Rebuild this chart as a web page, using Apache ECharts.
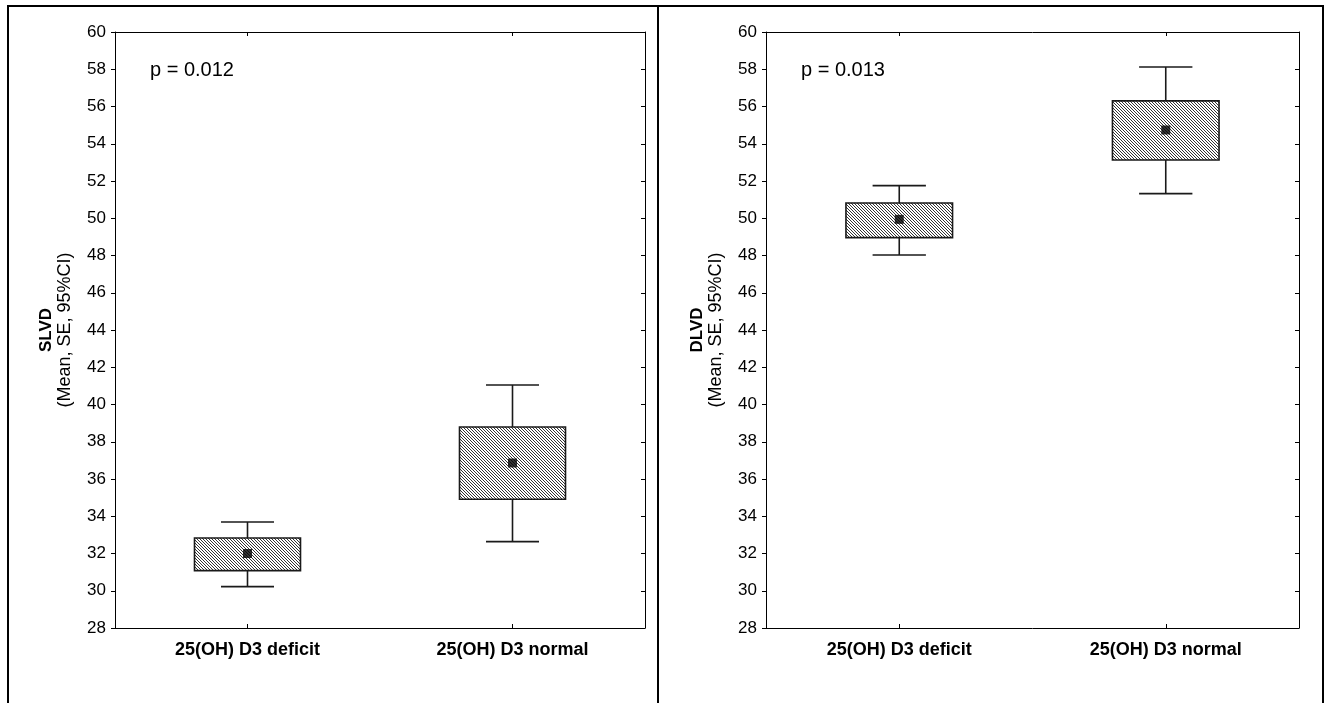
<!DOCTYPE html>
<html>
<head>
<meta charset="utf-8">
<script src="https://cdn.jsdelivr.net/npm/echarts@6/dist/echarts.min.js"></script>
<style>
html,body{margin:0;padding:0;background:#fff;}
#chart{width:1332px;height:703px;}
</style>
</head>
<body>
<div id="chart"></div>
<script>
// ---- data ----
var categories = ['25(OH) D3 deficit', '25(OH) D3 normal'];
var yMin = 28, yMax = 60, yInterval = 2;

var slvdMean   = [32.00, 36.86];
var slvdSeLow  = [31.08, 34.91];
var slvdSeHigh = [32.83, 38.79];
var slvdCiLow  = [30.22, 32.64];
var slvdCiHigh = [33.69, 41.05];

var dlvdMean   = [49.94, 54.74];
var dlvdSeLow  = [48.96, 53.13];
var dlvdSeHigh = [50.82, 56.30];
var dlvdCiLow  = [48.03, 51.32];
var dlvdCiHigh = [51.75, 58.12];

var pValues  = ['p = 0.012', 'p = 0.013'];
var yTitles  = ['SLVD', 'DLVD'];
var ySubtitle = '(Mean, SE, 95%CI)';

// ---- hatch pattern ----
var pc = document.createElement('canvas');
pc.width = 3; pc.height = 3;
var pctx = pc.getContext('2d');
pctx.fillStyle = '#ffffff'; pctx.fillRect(0, 0, 3, 3);
pctx.fillStyle = '#333333';
for (var i = 0; i < 3; i++) { pctx.fillRect(i, i, 1, 1); }
var hatch = { image: pc, repeat: 'repeat' };

var FONT = '"Liberation Sans", Arial, sans-serif';

function boxData(ciLow, seLow, seHigh, ciHigh) {
  return categories.map(function (c, i) { return [i, ciLow[i], seLow[i], seHigh[i], ciHigh[i]]; });
}
function meanData(mean) {
  return categories.map(function (c, i) { return [i, mean[i]]; });
}

function renderBox(params, api) {
  var x = api.value(0);
  var cw = api.size([1, 0])[0];
  var bw = cw * 0.4, capw = cw * 0.2;
  var pCiL = api.coord([x, api.value(1)]);
  var pSeL = api.coord([x, api.value(2)]);
  var pSeH = api.coord([x, api.value(3)]);
  var pCiH = api.coord([x, api.value(4)]);
  var cx = pCiL[0];
  var ls = { stroke: '#1a1a1a', lineWidth: 1.6 };
  return {
    type: 'group',
    children: [
      { type: 'line', shape: { x1: cx, y1: pCiL[1], x2: cx, y2: pSeL[1] }, style: ls },
      { type: 'line', shape: { x1: cx, y1: pSeH[1], x2: cx, y2: pCiH[1] }, style: ls },
      { type: 'line', shape: { x1: cx - capw / 2, y1: pCiL[1], x2: cx + capw / 2, y2: pCiL[1] }, style: ls },
      { type: 'line', shape: { x1: cx - capw / 2, y1: pCiH[1], x2: cx + capw / 2, y2: pCiH[1] }, style: ls },
      { type: 'rect', shape: { x: cx - bw / 2, y: pSeH[1], width: bw, height: pSeL[1] - pSeH[1] },
        style: { fill: hatch, stroke: '#1a1a1a', lineWidth: 1.6 } }
    ]
  };
}

var grids = [
  { left: 115, top: 32, width: 530, height: 596 },
  { left: 766, top: 32, width: 533, height: 596 }
];

var xAxes = [], yAxes = [], series = [], graphics = [];
var sets = [
  { mean: slvdMean, seL: slvdSeLow, seH: slvdSeHigh, ciL: slvdCiLow, ciH: slvdCiHigh },
  { mean: dlvdMean, seL: dlvdSeLow, seH: dlvdSeHigh, ciL: dlvdCiLow, ciH: dlvdCiHigh }
];

grids.forEach(function (g, gi) {
  var axLine = { show: true, lineStyle: { color: '#000', width: 1 } };
  xAxes.push({
    type: 'category', gridIndex: gi, data: categories, position: 'bottom',
    axisLine: axLine,
    axisTick: { show: true, inside: true, alignWithLabel: true, length: 4, lineStyle: { color: '#000' } },
    axisLabel: { color: '#000', fontFamily: FONT, fontSize: 18, fontWeight: 'bold', margin: 13 },
    splitLine: { show: false }
  });
  xAxes.push({
    type: 'category', gridIndex: gi, data: categories, position: 'top',
    axisLine: axLine,
    axisTick: { show: true, inside: true, alignWithLabel: true, length: 4, lineStyle: { color: '#000' } },
    axisLabel: { show: false }, splitLine: { show: false }
  });
  yAxes.push({
    type: 'value', gridIndex: gi, min: yMin, max: yMax, interval: yInterval, position: 'left',
    axisLine: axLine,
    axisTick: { show: true, inside: false, length: 4, lineStyle: { color: '#000' } },
    axisLabel: { color: '#000', fontFamily: FONT, fontSize: 17, margin: 9 },
    splitLine: { show: false }
  });
  yAxes.push({
    type: 'value', gridIndex: gi, min: yMin, max: yMax, interval: yInterval, position: 'right',
    axisLine: axLine,
    axisTick: { show: true, inside: true, length: 4, lineStyle: { color: '#000' } },
    axisLabel: { show: false }, splitLine: { show: false }
  });
  var s = sets[gi];
  series.push({
    type: 'custom', xAxisIndex: gi * 2, yAxisIndex: gi * 2,
    renderItem: renderBox,
    encode: { x: 0, y: [1, 2, 3, 4] },
    data: boxData(s.ciL, s.seL, s.seH, s.ciH),
    z: 2, silent: true
  });
  series.push({
    type: 'scatter', xAxisIndex: gi * 2, yAxisIndex: gi * 2,
    symbol: 'rect', symbolSize: 9,
    itemStyle: { color: '#000' },
    data: meanData(s.mean), z: 3, silent: true
  });
  graphics.push({
    type: 'text', x: g.left + 35, y: 70,
    style: { text: pValues[gi], font: '20px ' + FONT, fill: '#000', textAlign: 'left', textVerticalAlign: 'middle' }
  });
  graphics.push({
    type: 'text', x: g.left - 69, y: g.top + g.height / 2, rotation: Math.PI / 2,
    style: { text: yTitles[gi], font: 'bold 17px ' + FONT, fill: '#000', textAlign: 'center', textVerticalAlign: 'middle' }
  });
  graphics.push({
    type: 'text', x: g.left - 50, y: g.top + g.height / 2, rotation: Math.PI / 2,
    style: { text: ySubtitle, font: '18px ' + FONT, fill: '#000', textAlign: 'center', textVerticalAlign: 'middle' }
  });
});

// panel frames
graphics.push({ type: 'polyline', shape: { points: [[8, 720], [8, 6], [1323, 6], [1323, 720]] }, style: { stroke: '#000', lineWidth: 2, fill: null } });
graphics.push({ type: 'line', shape: { x1: 658, y1: 6, x2: 658, y2: 720 }, style: { stroke: '#000', lineWidth: 2 } });

var chart = echarts.init(document.getElementById('chart'), null, { renderer: 'canvas' });
chart.setOption({
  animation: false,
  backgroundColor: '#fff',
  grid: grids,
  xAxis: xAxes,
  yAxis: yAxes,
  series: series,
  graphic: graphics
});
</script>
</body>
</html>
